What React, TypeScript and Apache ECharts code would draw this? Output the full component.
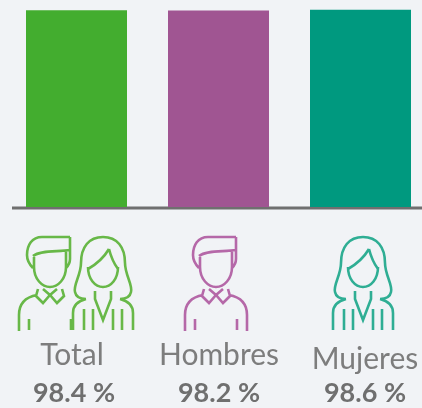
import React, { useEffect, useRef } from "react";
import * as echarts from "echarts";

const categories = ["Total", "Hombres", "Mujeres"];
const values = [98.4, 98.2, 98.6];
const valueLabels = ["98.4 %", "98.2 %", "98.6 %"];
const barColors = ["#43ad2f", "#a05592", "#00997f"];
const iconColors = ["#68b848", "#b568a8", "#2fae94"];

const MAN_HEAD =
  "M20,0 L-8,0 C-18,0 -23,8 -23,18 C-23,24 -20,28 -17,31 M20,0 L20,22 C20,26 18,29 16,31 M-17,19 C-10,13 8,15 20,13 M-16,20 L-16,30 C-16,42 -8,50 0,50 C8,50 16,42 16,30 L16,14 M-12,52 L-14,59 L-7,66 L0,58 L7,66 L14,59 L12,52 M-7,52 L0,58 L7,52 ";
const MAN_LEFT = "M-13,58 C-24,60 -31,66 -31,78 L-31,94 M-21,82 L-21,93 ";
const MAN_RIGHT = "M13,58 C24,60 31,66 31,78 L31,94 M21,82 L21,93 ";
const WOMAN =
  "M0,0 C-14,0 -22,10 -22,26 C-22,38 -30,48 -28,55 C-27,60 -22,62 -17,62 M0,0 C14,0 22,10 22,26 C22,38 30,48 28,55 C27,60 22,62 17,62 M6,12 C0,22 -8,28 -15,32 M6,12 C8,20 12,28 15,32 M-15,30 C-15,42 -8,50 0,50 C8,50 15,42 15,30 M-8,54 L-8,62 L0,83 L8,62 L8,54 M-17,62 C-25,64 -30,68 -30,76 L-30,93 M17,62 C25,64 30,68 30,76 L30,93 M-19,72 L-19,93 M19,72 L19,93 M-10,72 L-10,93 M10,72 L10,93";

function reg(name: string, d: string) {
  echarts.graphic.registerShape(name, echarts.graphic.extendPath(d, {}) as any);
}
reg("manIcon", MAN_HEAD + MAN_LEFT + MAN_RIGHT);
reg("manTotal", MAN_HEAD + MAN_LEFT + "M21,82 L21,93");
reg("womanIcon", WOMAN);

const icon = (type: string, x: number, color: string) => ({
  type,
  x,
  y: 237,
  style: { fill: "none", stroke: color, lineWidth: 2.6 },
});

const labelX = [72, 219, 365];
const labelY = [353, 353, 357];
const percentX = [74, 219, 365];

export default function App() {
  const ref = useRef<HTMLDivElement>(null);
  useEffect(() => {
    const chart = echarts.init(ref.current!, undefined, { renderer: "svg" });
    chart.setOption({
      animation: false,
      backgroundColor: "#f1f3f6",
      grid: { left: 5.5, top: 7, width: 426, height: 200, outerBoundsMode: "none" },
      xAxis: {
        type: "category",
        data: categories,
        axisLine: { show: false },
        axisTick: { show: false },
        axisLabel: { show: false },
      },
      yAxis: { type: "value", min: 0, max: 100, show: false },
      series: [
        {
          type: "bar",
          barWidth: 101,
          data: values.map((v, i) => ({ value: v, itemStyle: { color: barColors[i] } })),
        },
      ],
      graphic: [
        { type: "line", shape: { x1: 12, y1: 208, x2: 422, y2: 208 }, style: { stroke: "#6f6f6f", lineWidth: 3 } },
        icon("manTotal", 50, iconColors[0]),
        icon("womanIcon", 103, iconColors[0]),
        icon("manIcon", 216, iconColors[1]),
        icon("womanIcon", 363, iconColors[2]),
        ...categories.map((c, i) => ({
          type: "text",
          x: labelX[i],
          y: labelY[i],
          style: {
            text: c,
            font: '30px "Lato"',
            fill: "#7d7d7d",
            textAlign: "center",
            textVerticalAlign: "middle",
          },
        })),
        ...valueLabels.map((c, i) => ({
          type: "text",
          x: percentX[i],
          y: 391,
          style: {
            text: c,
            font: 'bold 27px "Lato"',
            fill: "#6f6f6f",
            textAlign: "center",
            textVerticalAlign: "middle",
          },
        })),
      ],
    });
    return () => chart.dispose();
  }, []);
  return (
    <div
      ref={ref}
      style={{ position: "absolute", left: 0, top: 0, width: 422, height: 408, filter: "blur(0.7px)" }}
    />
  );
}
